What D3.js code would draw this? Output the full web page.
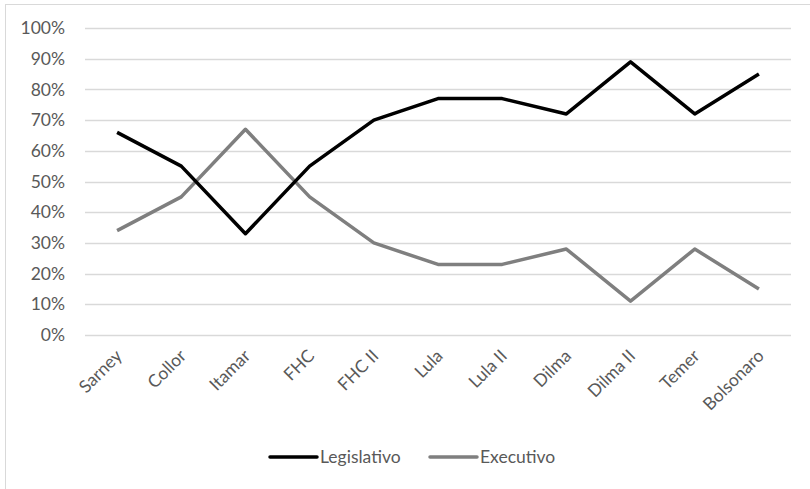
<!DOCTYPE html>
<html><head><meta charset="utf-8">
<script src="https://cdn.jsdelivr.net/npm/d3@7"></script>
<style>body{margin:0;background:#fff}svg{display:block}</style>
</head><body>
<svg id="c" width="810" height="489"></svg>
<script>
const categories = ["Sarney","Collor","Itamar","FHC","FHC II","Lula","Lula II","Dilma","Dilma II","Temer","Bolsonaro"];
const legislativo = [66,55,33,55,70,77,77,72,89,72,85];
const executivo = [34,45,67,45,30,23,23,28,11,28,15];
const yTicks = [0,10,20,30,40,50,60,70,80,90,100];
const seriesNames = ["Legislativo","Executivo"];

(function(){
const svg = d3.select("#c");
const font = "Lato, 'Open Sans', sans-serif";
const textColor = "#595959";
const fs = 17.5;
const pLeft = 85, pRight = 791, pTop = 28, pBottom = 335;

svg.append("rect").attr("x",5.5).attr("y",4.5).attr("width",900).attr("height",600)
  .attr("fill","none").attr("stroke","#d9d9d9").attr("stroke-width",1);

const x = d3.scalePoint().domain(categories).range([pLeft, pRight]).padding(0.5);
const y = d3.scaleLinear().domain([0,100]).range([pBottom, pTop]);

svg.append("g").selectAll("line").data(yTicks).join("line")
  .attr("x1",pLeft).attr("x2",pRight)
  .attr("y1",d=>Math.round(y(d))+0.5).attr("y2",d=>Math.round(y(d))+0.5)
  .attr("stroke","#d9d9d9").attr("stroke-width",1.5);

const yAxis = svg.append("g").attr("transform",`translate(${pLeft},0)`)
  .call(d3.axisLeft(y).tickValues(yTicks).tickFormat(d=>d+"%").tickSize(0).tickPadding(20));
yAxis.select(".domain").remove();
yAxis.selectAll("text").attr("font-family",font).attr("font-size",fs).attr("fill",textColor);

const xAxis = svg.append("g").attr("transform",`translate(0,${pBottom})`)
  .call(d3.axisBottom(x).tickSize(0).tickFormat(""));
xAxis.select(".domain").remove();
svg.append("g").selectAll("text").data(categories).join("text")
  .attr("transform",d=>`translate(${x(d)+6},${pBottom+22}) rotate(-45)`)
  .attr("text-anchor","end")
  .attr("font-family",font).attr("font-size",fs).attr("fill",textColor)
  .text(d=>d);

const line = d3.line().x((d,i)=>x(categories[i])).y(d=>y(d));
svg.append("path").datum(executivo).attr("d",line).attr("fill","none")
  .attr("stroke","#7f7f7f").attr("stroke-width",3.5).attr("stroke-linejoin","round");
svg.append("path").datum(legislativo).attr("d",line).attr("fill","none")
  .attr("stroke","#000").attr("stroke-width",3.5).attr("stroke-linejoin","round");

const lg = [{name:seriesNames[0],color:"#000",x:270},{name:seriesNames[1],color:"#7f7f7f",x:430}];
const leg = svg.append("g").selectAll("g").data(lg).join("g").attr("transform",d=>`translate(${d.x},457)`);
leg.append("line").attr("x1",0).attr("x2",47).attr("y1",0).attr("y2",0)
  .attr("stroke",d=>d.color).attr("stroke-width",3.5).attr("stroke-linecap","round");
leg.append("text").attr("x",50).attr("y",0).attr("dy","0.35em").text(d=>d.name)
  .attr("font-family",font).attr("font-size",fs).attr("fill",textColor);
})();
</script>
</body></html>
